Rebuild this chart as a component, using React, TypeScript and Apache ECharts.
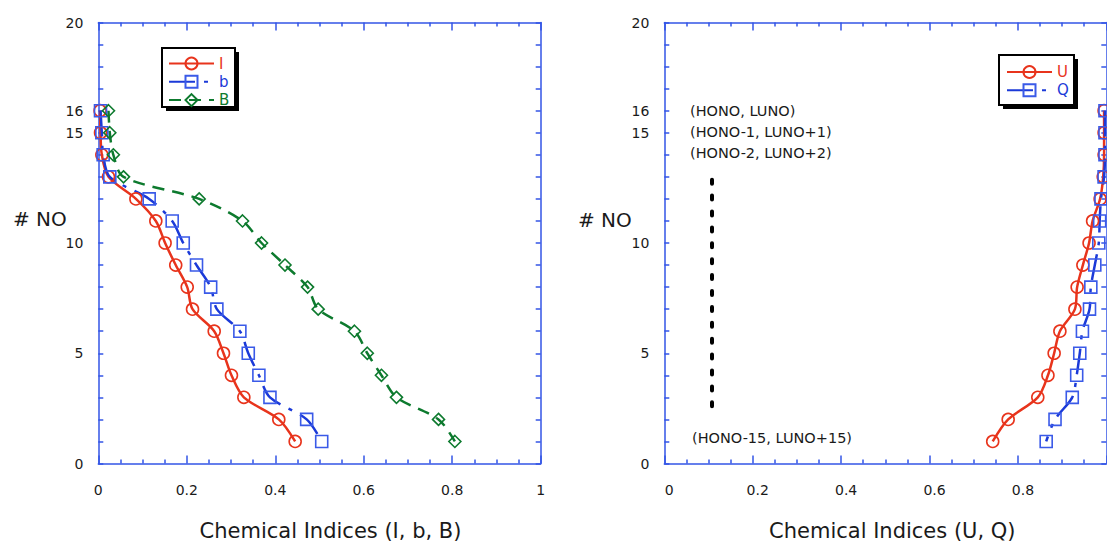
import React, { useEffect, useRef } from "react";
import * as echarts from "echarts";

// ---- data ----
const noLevels = [16, 15, 14, 13, 12, 11, 10, 9, 8, 7, 6, 5, 4, 3, 2, 1];
const indexI = [0.004, 0.005, 0.008, 0.023, 0.085, 0.13, 0.151, 0.175, 0.201, 0.213, 0.262, 0.283, 0.301, 0.329, 0.408, 0.445];
const indexSmallB = [0.005, 0.008, 0.011, 0.026, 0.115, 0.167, 0.192, 0.222, 0.254, 0.268, 0.32, 0.339, 0.363, 0.388, 0.471, 0.505];
const indexBigB = [0.023, 0.026, 0.034, 0.057, 0.228, 0.326, 0.369, 0.422, 0.473, 0.497, 0.579, 0.608, 0.64, 0.674, 0.769, 0.806];
const indexU = [0.995, 0.995, 0.995, 0.993, 0.986, 0.969, 0.961, 0.947, 0.934, 0.929, 0.895, 0.882, 0.868, 0.845, 0.778, 0.743];
const indexQ = [0.997, 0.997, 0.997, 0.995, 0.988, 0.985, 0.983, 0.974, 0.965, 0.962, 0.946, 0.94, 0.933, 0.923, 0.884, 0.864];
const yTickLabels = [0, 5, 10, 15, 16, 20];
const xTickLabelsLeft = [0, 0.2, 0.4, 0.6, 0.8, 1];
const xTickLabelsRight = [0, 0.2, 0.4, 0.6, 0.8];
const legendLeft = ["I", "b", "B"];
const legendRight = ["U", "Q"];
const xTitles = ["Chemical Indices (I, b, B)", "Chemical Indices (U, Q)"];
const yTitle = "# NO";
const annotations = ["(HONO, LUNO)", "(HONO-1, LUNO+1)", "(HONO-2, LUNO+2)", "(HONO-15, LUNO+15)"];

// ---- styles ----
const FONT = "DejaVu Sans";
const AXIS = "#3355e6";
const RED = "#e8341c";
const BLUE = "#1b3ad8";
const BLUE_MARK = "#3a5ae8";
const GREEN = "#0d7a2e";
const TXT = "#1a1a1a";

const pair = (xs: number[]) => xs.map((x, i) => [x, noLevels[i]]);

function mkSeries(name: string, xs: number[], axisIdx: number, color: string, markColor: string, symbol: string, size: number, dash: any) {
  return {
    name,
    type: "line",
    xAxisIndex: axisIdx,
    yAxisIndex: axisIdx,
    data: pair(xs),
    symbol,
    symbolSize: size,
    smooth: 0.3,
    clip: true,
    lineStyle: { color, width: 2.5, type: dash },
    itemStyle: { color: "rgba(255,255,255,0)", borderColor: markColor, borderWidth: 1.6 },
    emphasis: { disabled: true },
  };
}

function xAxisDef(gridIndex: number, position: string, showLabels: boolean, labels: number[], name?: string, namePad?: number, labelPad?: number) {
  return {
    type: "value",
    gridIndex,
    position,
    min: 0,
    max: 1,
    interval: 0.2,
    name: name || "",
    nameLocation: "middle",
    nameGap: 57,
    nameTextStyle: { fontFamily: FONT, fontSize: 21, color: TXT, padding: [0, 0, 0, namePad || 0] },
    axisLine: { show: true, onZero: false, lineStyle: { color: AXIS, width: 1.5 } },
    axisTick: { show: true, inside: true, length: 8, lineStyle: { color: AXIS, width: 1.5 } },
    minorTick: { show: true, splitNumber: 4, length: 4, lineStyle: { color: AXIS, width: 1.5 } },
    splitLine: { show: false },
    minorSplitLine: { show: false },
    axisLabel: {
      show: showLabels,
      margin: 19,
      fontFamily: FONT,
      fontSize: 14,
      color: TXT,
      padding: [0, 0, 0, labelPad || 0],
      formatter: (v: number) => {
        const hit = labels.find((l) => Math.abs(l - v) < 1e-6);
        return hit === undefined ? "" : String(hit);
      },
    },
  };
}

function yAxisDef(gridIndex: number, position: string, showLabels: boolean) {
  return {
    type: "value",
    gridIndex,
    position,
    min: 0,
    max: 20,
    interval: 1,
    axisLine: { show: true, onZero: false, lineStyle: { color: AXIS, width: 1.5 } },
    axisTick: { show: true, inside: true, length: 5, lineStyle: { color: AXIS, width: 1.5 } },
    splitLine: { show: false },
    axisLabel: {
      show: showLabels,
      margin: 15,
      fontFamily: FONT,
      fontSize: 14,
      color: TXT,
      formatter: (v: number) => (yTickLabels.includes(v) ? String(v) : ""),
    },
  };
}

function legendBox(x: number, y: number, w: number, h: number) {
  return [
    { type: "rect", z: 3, shape: { x: x + 4, y: y + 4, width: w, height: h }, style: { fill: "#000" } },
    { type: "rect", z: 3, shape: { x, y, width: w, height: h }, style: { fill: "#fff", stroke: "#000", lineWidth: 2 } },
  ];
}

function legendDef(names: string[], colors: string[], left: number, top: number) {
  return {
    orient: "vertical",
    left,
    top,
    padding: 0,
    itemWidth: 45,
    itemHeight: 15,
    itemGap: 3.3,
    selectedMode: false,
    textStyle: { fontFamily: FONT, fontSize: 15 },
    data: names.map((n, i) => ({ name: n, textStyle: { color: colors[i] } })),
  };
}

export default function App() {
  const ref = useRef<HTMLDivElement>(null);
  useEffect(() => {
    document.body.style.margin = "0";
    if (!ref.current) return;
    const chart = echarts.init(ref.current, undefined, { renderer: "svg" });
    const blueDash = [26, 9, 4, 9];
    const greenDash = [12, 8];
    const annStyle = { fontFamily: FONT, fontSize: 14.5, fill: TXT, verticalAlign: "middle", align: "left" };
    chart.setOption({
      animation: false,
      backgroundColor: "#fff",
      grid: [
        { left: 98.3, top: 22.5, width: 442.4, height: 441, containLabel: false, outerBoundsMode: "none" },
        { left: 664.3, top: 22.5, width: 442, height: 441, containLabel: false, outerBoundsMode: "none" },
      ],
      xAxis: [
        xAxisDef(0, "bottom", true, xTickLabelsLeft, xTitles[0], 22, 0),
        xAxisDef(0, "top", false, xTickLabelsLeft),
        xAxisDef(1, "bottom", true, xTickLabelsRight, xTitles[1], 14, 10),
        xAxisDef(1, "top", false, xTickLabelsRight),
      ],
      yAxis: [
        yAxisDef(0, "left", true),
        yAxisDef(0, "right", false),
        yAxisDef(1, "left", true),
        yAxisDef(1, "right", false),
      ],
      legend: [
        legendDef(legendLeft, [RED, BLUE, GREEN], 168, 56),
        legendDef(legendRight, [RED, BLUE], 1006, 64.5),
      ],
      graphic: [
        ...legendBox(162, 48, 73, 59),
        ...legendBox(999, 55, 75, 50),
        { type: "text", z: 5, left: 13, top: 209, style: { text: yTitle, fontFamily: FONT, fontSize: 20, fill: TXT } },
        { type: "text", z: 5, left: 578, top: 210, style: { text: yTitle, fontFamily: FONT, fontSize: 20, fill: TXT } },
        { type: "text", z: 5, x: 690, y: 111, style: { text: annotations[0], ...annStyle } },
        { type: "text", z: 5, x: 690, y: 132, style: { text: annotations[1], ...annStyle } },
        { type: "text", z: 5, x: 690, y: 153, style: { text: annotations[2], ...annStyle } },
        { type: "text", z: 5, x: 692, y: 438, style: { text: annotations[3], ...annStyle } },
        {
          type: "line",
          z: 5,
          shape: { x1: 712, y1: 179.7, x2: 712, y2: 406.3 },
          style: { stroke: "#000", lineWidth: 4, lineDash: [4, 11.9], lineCap: "round" },
        },
      ],
      series: [
        mkSeries("I", indexI, 0, RED, RED, "circle", 12, "solid"),
        mkSeries("b", indexSmallB, 0, BLUE, BLUE_MARK, "rect", 12, blueDash),
        mkSeries("B", indexBigB, 0, GREEN, GREEN, "diamond", 12, greenDash),
        mkSeries("U", indexU, 2, RED, RED, "circle", 12, "solid"),
        mkSeries("Q", indexQ, 2, BLUE, BLUE_MARK, "rect", 12, blueDash),
      ],
    });
    return () => chart.dispose();
  }, []);
  return <div ref={ref} style={{ width: 1107, height: 543 }} />;
}
